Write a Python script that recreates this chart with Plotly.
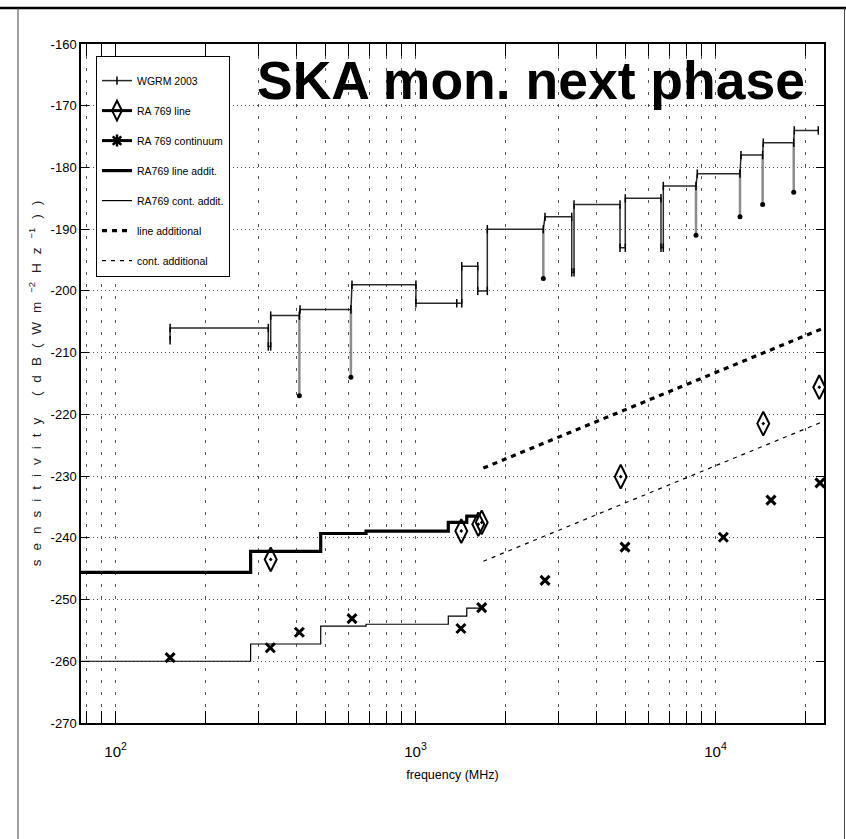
import math
import plotly.graph_objects as go

# ---------------- data (frequency in MHz, sensitivity in dB(W m^-2 Hz^-1)) ----------------
# WGRM 2003 step path
wgrm_f = [152, 152, 323, 323, 329, 329, 410, 412, 609, 614, 1003, 1003, 1372, 1426, 1426,
          1612, 1612, 1735, 1735, 2667, 2702, 3317, 3317, 3376, 3376, 4805, 4805, 5004, 5004,
          6580, 6580, 6699, 6699, 8610, 8697, 12070, 12160, 14363, 14430, 18230, 18310, 22010]
wgrm_db = [-208, -206, -206, -209, -209, -204, -204, -203, -203, -199, -199, -202, -202, -202, -196,
           -196, -200, -200, -190, -190, -188, -188, -197, -197, -186, -186, -193, -193, -185,
           -185, -193, -193, -183, -183, -181, -181, -178, -178, -176, -176, -174, -174]
# WGRM 2003 downward spikes
spike_f = [410, 609, 2667, 8610, 12070, 14363, 18230]
spike_top = [-204, -203, -190, -183, -181, -178, -176]
spike_low = [-217, -214, -198, -191, -188, -186, -184]

# RA 769 line (diamonds)
ra_line_f = [329, 1421, 1619, 1662, 4831, 14430, 22180]
ra_line_db = [-243.5, -238.9, -237.8, -237.5, -230.1, -221.5, -215.6]

# RA 769 continuum (stars)
ra_cont_f = [152, 328, 410, 614, 1417, 1662, 2702, 4993, 10620, 15310, 22300]
ra_cont_db = [-259.4, -257.8, -255.3, -253.1, -254.7, -251.3, -246.9, -241.5, -239.9, -233.9, -231.1]

# RA769 additional steps (step edges)
add_f = [70, 282, 483, 684, 1286, 1482, 1619]
line_add_db = [-245.6, -242.2, -239.3, -238.9, -237.5, -236.5, -236.5]
cont_add_f = [70, 282, 483, 684, 1286, 1482, 1662]
cont_add_db = [-260.0, -257.2, -254.3, -254.0, -252.7, -251.4, -251.4]

# additional (20 dB/decade lines)
extra_f = [1683, 23000]
line_extra_db = [-228.7, -206.0]
cont_extra_db = [-243.8, -221.1]

# axes
x_tickvals = [80, 90, 100, 200, 300, 400, 500, 600, 700, 800, 900, 1000, 2000, 3000, 4000,
              5000, 6000, 7000, 8000, 9000, 10000, 20000]
x_ticktext = ["", "", "10<sup>2</sup>", "", "", "", "", "", "", "", "", "10<sup>3</sup>",
              "", "", "", "", "", "", "", "", "10<sup>4</sup>", ""]
y_tickvals = [-270, -260, -250, -240, -230, -220, -210, -200, -190, -180, -170, -160]
y_ticktext = ["-270", "-260", "-250", "-240", "-230", "-220", "-210", "-200", "-190", "-180",
              "-170", "-160"]

FONT = "Liberation Sans, Arial, sans-serif"

# letter-spaced y axis title
SP = "\u2002\u2006"
ylab_parts = ["sensitivity (dB(Wm", "<sup>\u22122</sup>", "Hz", "<sup>\u22121</sup>", "))"]
ylab = ""
for p in ylab_parts:
    if p.startswith("<sup>"):
        ylab += p + SP
    else:
        ylab += SP.join(list(p)) + SP
ylab = ylab[: -len(SP)]

fig = go.Figure()

# spikes (gray, thick)
sx, sy = [], []
for f, t, l in zip(spike_f, spike_top, spike_low):
    sx += [f, f, None]
    sy += [t, l, None]
fig.add_trace(go.Scatter(x=sx, y=sy, mode="lines", line=dict(color="#8c8c8c", width=2.5),
                         showlegend=False, hoverinfo="skip"))
fig.add_trace(go.Scatter(x=spike_f, y=spike_low, mode="markers",
                         marker=dict(symbol="circle", size=5, color="black"),
                         showlegend=False, hoverinfo="skip"))

# WGRM path
fig.add_trace(go.Scatter(x=wgrm_f, y=wgrm_db, mode="lines+markers", name="WGRM 2003",
                         line=dict(color="#2a2a2a", width=1.5),
                         marker=dict(symbol="line-ns-open", size=6, color="black",
                                     line=dict(width=1.5, color="black")),
                         legendgroup="a"))

# RA769 additional steps
fig.add_trace(go.Scatter(x=add_f, y=line_add_db, mode="lines", line_shape="hv",
                         line=dict(color="black", width=3.2), showlegend=False))
fig.add_trace(go.Scatter(x=cont_add_f, y=cont_add_db, mode="lines", line_shape="hv",
                         line=dict(color="black", width=1.2), showlegend=False))

# additional dashed lines
fig.add_trace(go.Scatter(x=extra_f, y=line_extra_db, mode="lines",
                         line=dict(color="black", width=3.2, dash="5px,5px"), showlegend=False))
fig.add_trace(go.Scatter(x=extra_f, y=cont_extra_db, mode="lines",
                         line=dict(color="black", width=1.2, dash="4px,5px"), showlegend=False))

# RA 769 markers
fig.add_trace(go.Scatter(x=ra_line_f, y=ra_line_db, mode="markers", showlegend=False,
                         marker=dict(symbol="diamond-tall-open-dot", size=17, color="black",
                                     line=dict(width=2, color="black"))))
fig.add_trace(go.Scatter(x=ra_cont_f, y=ra_cont_db, mode="markers", showlegend=False,
                         marker=dict(symbol="x-thin-open", size=9, color="black",
                                     line=dict(width=3, color="black"))))

# legend proxies
fig.add_trace(go.Scatter(x=[None], y=[None], mode="lines+markers", name="RA 769 line",
                         line=dict(color="black", width=3),
                         marker=dict(symbol="diamond-tall-open", size=14, color="black",
                                     line=dict(width=2, color="black")), legendgroup="b"))
fig.add_trace(go.Scatter(x=[None], y=[None], mode="lines+markers", name="RA 769 continuum",
                         line=dict(color="black", width=3),
                         marker=dict(symbol="asterisk-open", size=10, color="black",
                                     line=dict(width=2.5, color="black")), legendgroup="c"))
fig.add_trace(go.Scatter(x=[None], y=[None], mode="lines", name="RA769 line addit.",
                         line=dict(color="black", width=3.2), legendgroup="d"))
fig.add_trace(go.Scatter(x=[None], y=[None], mode="lines", name="RA769 cont. addit.",
                         line=dict(color="black", width=1.2), legendgroup="e"))
fig.add_trace(go.Scatter(x=[None], y=[None], mode="lines", name="line additional",
                         line=dict(color="black", width=3.2, dash="5px,5px"), legendgroup="f"))
fig.add_trace(go.Scatter(x=[None], y=[None], mode="lines", name="cont. additional",
                         line=dict(color="black", width=1.2, dash="4px,5px"), legendgroup="g"))

L, R, T, B = 81, 22, 44, 116
W, H = 846, 839
pw, ph = W - L - R, H - T - B


def px(xp):
    return (xp - L) / pw


def py(yp):
    return (H - B - yp) / ph


fig.update_layout(
    width=W, height=H,
    margin=dict(l=L, r=R, t=T, b=B, autoexpand=False),
    paper_bgcolor="white", plot_bgcolor="white",
    font=dict(family=FONT, color="black", size=13),
    showlegend=True,
    legend=dict(x=px(96), y=py(56), xanchor="left", yanchor="top",
                bgcolor="white", bordercolor="black", borderwidth=1,
                font=dict(family=FONT, size=10.5, color="black"),
                title=dict(text="&nbsp;", font=dict(size=7)),
                tracegroupgap=11, itemwidth=30, traceorder="grouped"),
    xaxis=dict(type="log", range=[math.log10(76.7), math.log10(23000)],
               tickmode="array", tickvals=x_tickvals, ticktext=x_ticktext,
               ticks="inside", ticklen=12, tickwidth=1, tickcolor="black",
               showline=True, linecolor="black", linewidth=1.5, mirror="ticks",
               showgrid=True, gridcolor="#555", gridwidth=1, griddash="3px,9px",
               zeroline=False, tickfont=dict(family=FONT, size=15, color="black"),
               ticklabelstandoff=14,
               title=dict(text="frequency (MHz)", standoff=11,
                          font=dict(family=FONT, size=12.5, color="black")),
               automargin=False),
    yaxis=dict(range=[-270, -160], tickmode="array", tickvals=y_tickvals, ticktext=y_ticktext,
               ticks="inside", ticklen=8, tickwidth=1, tickcolor="black",
               showline=True, linecolor="black", linewidth=1.5, mirror="ticks",
               showgrid=True, gridcolor="#555", gridwidth=1, griddash="1px,3px",
               zeroline=False, tickfont=dict(family=FONT, size=13, color="black"),
               title=dict(text=ylab, standoff=6, font=dict(family=FONT, size=13.5, color="#222")),
               automargin=False),
    annotations=[dict(text="<b>SKA mon. next phase</b>", xref="paper", yref="paper",
                      x=px(255), y=py(80), xanchor="left", yanchor="middle", showarrow=False,
                      font=dict(family=FONT, size=53.5, color="black"))],
    shapes=[
        dict(type="line", xref="paper", yref="paper", x0=px(0), x1=px(846), y0=py(8), y1=py(8),
             line=dict(color="black", width=2.5)),
        dict(type="line", xref="paper", yref="paper", x0=px(18), x1=px(18), y0=py(8), y1=py(839),
             line=dict(color="#444", width=1)),
        dict(type="line", xref="paper", yref="paper", x0=px(844.5), x1=px(844.5), y0=py(8),
             y1=py(839), line=dict(color="#444", width=1)),
    ],
)

fig.write_html("out.html")
